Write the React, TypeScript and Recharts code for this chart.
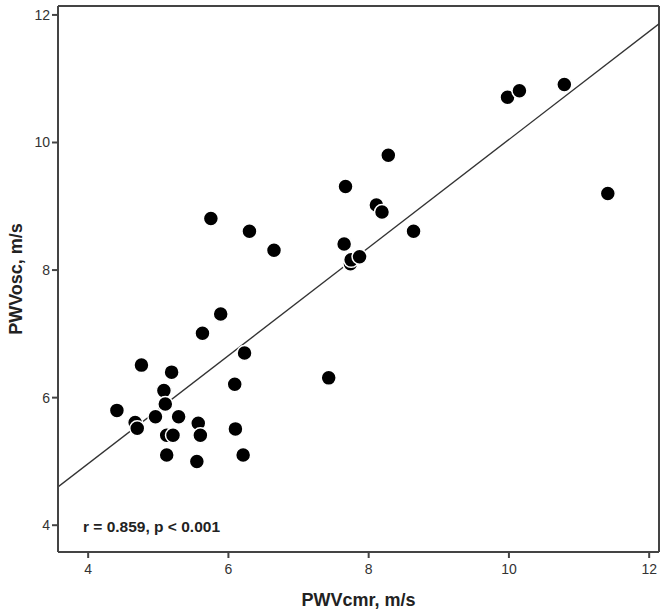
import React from "react";
import {
  ScatterChart,
  Scatter,
  XAxis,
  YAxis,
  ReferenceLine,
} from "recharts";

const pwvCmr = [
  4.41, 4.67, 4.7, 4.76, 4.96, 5.08, 5.1, 5.12, 5.21, 5.12, 5.19, 5.29, 5.57, 5.6, 5.55, 5.63,
  5.75, 5.89, 6.09, 6.1, 6.21, 6.23, 6.3, 6.65, 7.43, 7.65, 7.67, 7.74, 7.75, 7.87, 8.11, 8.19,
  8.28, 8.64, 9.98, 10.15, 10.79, 11.41,
];
const pwvOsc = [
  5.8, 5.61, 5.52, 6.51, 5.7, 6.11, 5.9, 5.41, 5.41, 5.1, 6.4, 5.7, 5.6, 5.41, 5.0, 7.01,
  8.81, 7.31, 6.21, 5.51, 5.1, 6.7, 8.61, 8.31, 6.31, 8.41, 9.31, 8.1, 8.16, 8.21, 9.02, 8.91,
  9.8, 8.61, 10.71, 10.81, 10.91, 9.2,
];
const fitX = [3.57, 12.14];
const fitY = [4.6, 11.86];
const ticks = [4, 6, 8, 10, 12];
const xDomain = [3.57, 12.14];
const yDomain = [3.58, 12.14];

const points = pwvCmr.map((x, i) => ({ x, y: pwvOsc[i] }));

const font = "'Liberation Sans', Arial, sans-serif";
const axisColor = "#444";

const Dot = (props: any) => {
  const { cx, cy } = props;
  if (cx == null || cy == null) return null;
  return <circle cx={cx} cy={cy} r={7.5} fill="#000" stroke="#fff" strokeWidth={1.5} />;
};

export default function App() {
  return (
    <div style={{ position: "absolute", left: 0, top: 0, background: "#fff" }}>
      <ScatterChart width={666} height={614} margin={{ top: 6, right: 7, left: 0, bottom: 0 }}>
        <XAxis
          type="number"
          dataKey="x"
          domain={xDomain}
          ticks={ticks}
          allowDataOverflow
          height={62}
          stroke={axisColor}
          strokeWidth={2}
          tickSize={6}
          tickMargin={6}
          tick={{ fill: "#333", fontSize: 14, fontFamily: font }}
          label={{
            value: "PWVcmr, m/s",
            position: "insideBottom",
            offset: 8,
            style: { fill: "#222", fontSize: 18, fontWeight: "bold", fontFamily: font },
          }}
        />
        <YAxis
          type="number"
          dataKey="y"
          domain={yDomain}
          ticks={ticks}
          allowDataOverflow
          width={58}
          stroke={axisColor}
          strokeWidth={2}
          tickSize={6}
          tick={{ fill: "#333", fontSize: 14, fontFamily: font }}
          label={{
            value: "PWVosc, m/s",
            angle: -90,
            position: "insideLeft",
            offset: 16,
            style: { fill: "#222", fontSize: 18, fontWeight: "bold", fontFamily: font, textAnchor: "middle" },
          }}
        />
        <ReferenceLine y={yDomain[1]} stroke={axisColor} strokeWidth={2} />
        <ReferenceLine x={xDomain[1]} stroke={axisColor} strokeWidth={2} />
        <ReferenceLine
          segment={[
            { x: fitX[0], y: fitY[0] },
            { x: fitX[1], y: fitY[1] },
          ]}
          stroke="#333"
          strokeWidth={1.3}
          ifOverflow="hidden"
        />
        <Scatter data={points} shape={<Dot />} isAnimationActive={false} />
        <text x={83} y={532} fontFamily={font} fontSize={15.5} fontWeight="bold" fill="#222">
          r = 0.859,  p &lt; 0.001
        </text>
      </ScatterChart>
    </div>
  );
}
